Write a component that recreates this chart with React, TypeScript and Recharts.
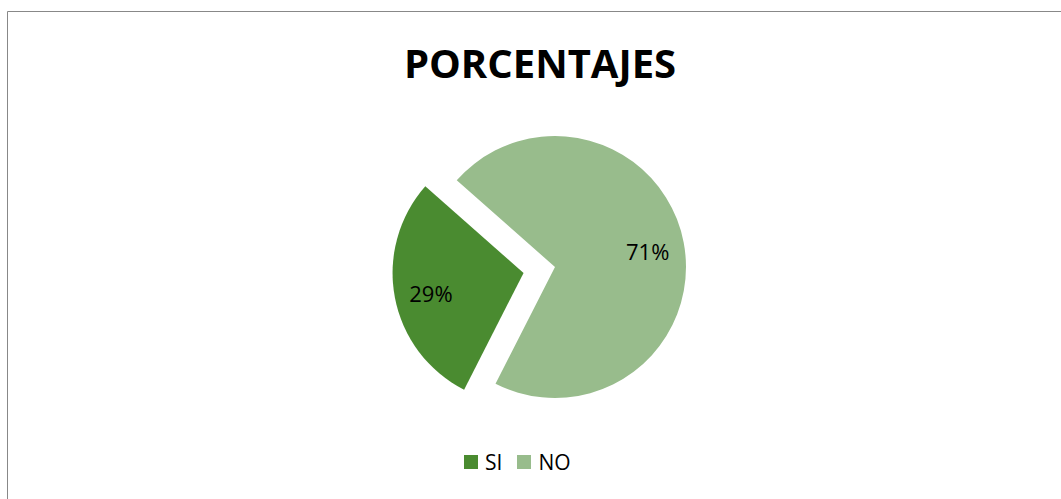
import React from "react";
import { Cell, Pie, PieChart } from "recharts";

const categories = ["SI", "NO"];
const values = [29, 71];
const colors = ["#4a8b30", "#98bc8c"];
const title = "PORCENTAJES";

const data = categories.map((name, i) => ({ name, value: values[i] }));

const RAD = Math.PI / 180;
const CX = 555;
const CY = 267;
const R = 131;
const START = -117;
const EXPLODE = 32;
const FONT = "'Open Sans', 'Liberation Sans', sans-serif";

// first slice (SI) is pulled out along its bisector
const total = values.reduce((a, b) => a + b, 0);
const siMid = START - (values[0] / total) * 180;
const exCx = CX + EXPLODE * Math.cos(siMid * RAD);
const exCy = CY - EXPLODE * Math.sin(siMid * RAD);

const labelFor = (only: number) => (props: any) => {
  if (props.index !== only) return null;
  const r = props.outerRadius * 0.72;
  const x = props.cx + r * Math.cos(-props.midAngle * RAD);
  const y = props.cy + r * Math.sin(-props.midAngle * RAD) + 2;
  return (
    <text
      x={x}
      y={y}
      textAnchor="middle"
      dominantBaseline="central"
      fill="#000"
      fontFamily={FONT}
      fontSize={22}
    >
      {`${Math.round(props.percent * 100)}%`}
    </text>
  );
};

export default function App() {
  return (
    <div style={{ position: "absolute", left: 0, top: 0, width: 1061, height: 499, overflow: "hidden", background: "#fff" }}>
      <svg width={1061} height={499} style={{ position: "absolute", left: 0, top: 0 }}>
        <line x1={7.5} y1={11.5} x2={1061} y2={11.5} stroke="#888" strokeWidth={1} />
        <line x1={7.5} y1={11.5} x2={7.5} y2={499} stroke="#888" strokeWidth={1} />
      </svg>
      <div style={{ position: "absolute", left: 0, top: 0 }}>
        <PieChart width={1061} height={499} margin={{ top: 0, right: 0, bottom: 0, left: 0 }}>
          <Pie
            data={data}
            dataKey="value"
            nameKey="name"
            cx={CX}
            cy={CY}
            outerRadius={R}
            startAngle={START}
            endAngle={START - 360}
            stroke="none"
            labelLine={false}
            label={labelFor(1)}
            isAnimationActive={false}
          >
            {data.map((d, i) => (
              <Cell key={d.name} fill={i === 1 ? colors[i] : "transparent"} />
            ))}
          </Pie>
          <Pie
            data={data}
            dataKey="value"
            nameKey="name"
            cx={exCx}
            cy={exCy}
            outerRadius={R}
            startAngle={START}
            endAngle={START - 360}
            stroke="none"
            labelLine={false}
            label={labelFor(0)}
            isAnimationActive={false}
          >
            {data.map((d, i) => (
              <Cell key={d.name} fill={i === 0 ? colors[i] : "transparent"} />
            ))}
          </Pie>
        </PieChart>
      </div>
      <svg width={1061} height={499} style={{ position: "absolute", left: 0, top: 0, pointerEvents: "none" }}>
        <text x={540} y={78} textAnchor="middle" fontFamily={FONT} fontWeight="bold" fontSize={40} fill="#000">
          {title}
        </text>
      </svg>
      <div
        style={{
          position: "absolute",
          left: 464,
          top: 447,
          height: 30,
          display: "flex",
          alignItems: "center",
          fontFamily: FONT,
          fontSize: 21,
          color: "#000",
          lineHeight: "30px",
        }}
      >
        {categories.map((c, i) => (
          <span key={c} style={{ display: "inline-flex", alignItems: "center", marginRight: i === 0 ? 15 : 0 }}>
            <span style={{ width: 14, height: 14, background: colors[i], marginRight: 7, display: "inline-block" }} />
            {c}
          </span>
        ))}
      </div>
    </div>
  );
}
